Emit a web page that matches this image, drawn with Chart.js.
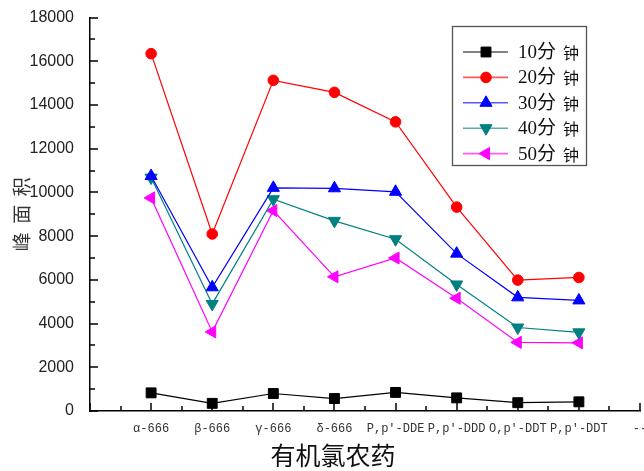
<!DOCTYPE html>
<html>
<head>
<meta charset="utf-8">
<script src="https://cdn.jsdelivr.net/npm/chart.js@4/dist/chart.umd.min.js"></script>
<style>
  html, body { margin: 0; padding: 0; background: #fff; overflow: hidden; }
  #wrap { width: 700px; height: 471px; }
</style>
</head>
<body>
<div id="wrap"><canvas id="c" width="700" height="471"></canvas></div>
<script>
// Organochlorine pesticides on the x axis
const categories = ["α-666", "β-666", "γ-666", "δ-666", "P,p'-DDE", "P,p'-DDD", "O,p'-DDT", "P,p'-DDT"];
// labels at the two ends of the x axis (positions -1 and 8)
const edgeLabels = ["", "--"];

// peak areas by extraction time
const min10 = [830, 350, 800, 570, 850, 600, 380, 420];
const min20 = [16350, 8100, 15130, 14580, 13230, 9330, 5990, 6110];
const min30 = [10750, 5660, 10210, 10190, 10030, 7200, 5200, 5060];
const min40 = [10680, 4900, 9690, 8700, 7860, 5790, 3820, 3600];
const min50 = [9750, 3620, 9170, 6140, 7000, 5160, 3140, 3120];

const seriesNames = ["10分 钟", "20分 钟", "30分 钟", "40分 钟", "50分 钟"];
const yMin = 0, yMax = 18000, yStep = 2000;

const toPoints = arr => arr.map((v, i) => ({ x: i, y: v }));

function series(label, values, color, style, rotation, radius) {
  return {
    label, data: toPoints(values),
    borderColor: color, backgroundColor: color,
    pointBackgroundColor: color, pointBorderColor: color,
    pointStyle: style, pointRotation: rotation,
    pointRadius: radius, pointHoverRadius: radius, pointBorderWidth: 1,
    borderWidth: 1.2, tension: 0, fill: false, clip: false
  };
}

// inward major/minor tick marks on both axes
const inwardTicks = {
  id: 'inwardTicks',
  beforeDatasetsDraw(chart) {
    const { ctx, chartArea: a, scales: { x, y } } = chart;
    ctx.save();
    ctx.strokeStyle = '#000';
    ctx.lineWidth = 1.5;
    ctx.beginPath();
    for (let v = yMin; v <= yMax; v += yStep / 2) {
      const py = Math.round(y.getPixelForValue(v));
      const len = v % yStep === 0 ? 8 : 5;
      ctx.moveTo(a.left, py);
      ctx.lineTo(a.left + len, py);
    }
    for (let v = x.min; v <= x.max + 1e-9; v += 0.5) {
      const px = Math.round(x.getPixelForValue(v));
      const len = Number.isInteger(v) ? 8 : 5;
      ctx.moveTo(px, a.bottom);
      ctx.lineTo(px, a.bottom - len);
    }
    ctx.stroke();
    ctx.restore();
  }
};

// boxed legend in the upper right plus the x axis caption
const boxLegend = {
  id: 'boxLegend',
  afterDraw(chart) {
    const { ctx } = chart;
    ctx.save();
    // x axis caption
    ctx.fillStyle = '#111';
    ctx.font = "25px 'Noto Sans CJK SC'";
    ctx.textAlign = 'center';
    ctx.textBaseline = 'middle';
    ctx.fillText('有机氯农药', 333, 455);

    // legend frame
    const bx = 452.5, by = 26.5, bw = 134, bh = 139;
    ctx.strokeStyle = '#555';
    ctx.lineWidth = 1.3;
    ctx.strokeRect(bx, by, bw, bh);

    const rowY0 = 52, rowStep = 25.4;
    chart.data.datasets.forEach((ds, i) => {
      const ry = rowY0 + i * rowStep;
      ctx.globalAlpha = 0.65;
      ctx.strokeStyle = ds.borderColor;
      ctx.lineWidth = 1.6;
      ctx.beginPath();
      ctx.moveTo(463, ry);
      ctx.lineTo(508, ry);
      ctx.stroke();
      ctx.globalAlpha = 1;
      ctx.fillStyle = ds.pointBackgroundColor;
      ctx.strokeStyle = ds.pointBorderColor;
      ctx.lineWidth = 1;
      Chart.helpers.drawPoint(ctx, {
        pointStyle: ds.pointStyle, rotation: ds.pointRotation,
        radius: ds.pointRadius, borderWidth: 1
      }, 486, ry);
      // "NN分" in the larger face, "钟" a little smaller after a gap
      const [head, tail] = ds.label.split(' ');
      ctx.fillStyle = '#111';
      ctx.textAlign = 'left';
      ctx.textBaseline = 'middle';
      ctx.font = "19px 'Liberation Serif', 'Noto Sans CJK SC'";
      ctx.fillText(head, 518, ry + 1);
      ctx.font = "16px 'Noto Sans CJK SC'";
      ctx.fillText(tail, 563, ry + 1);
    });
    ctx.restore();
  }
};

new Chart(document.getElementById('c'), {
  type: 'line',
  data: {
    datasets: [
      series(seriesNames[0], min10, '#000000', 'rect', 0, 7),
      series(seriesNames[1], min20, '#ff0000', 'circle', 0, 5.3),
      series(seriesNames[2], min30, '#0000ff', 'triangle', 0, 7),
      series(seriesNames[3], min40, '#008080', 'triangle', 180, 7),
      series(seriesNames[4], min50, '#ff00ff', 'triangle', 270, 7)
    ]
  },
  options: {
    responsive: false,
    animation: false,
    devicePixelRatio: 1,
    layout: { padding: { left: 0, top: 14, right: 60, bottom: 0 } },
    plugins: { legend: { display: false }, tooltip: { enabled: false } },
    scales: {
      x: {
        type: 'linear', min: -1, max: 8,
        grid: { display: false },
        border: { display: true, color: '#000', width: 1.5 },
        ticks: {
          stepSize: 1, autoSkip: false, maxRotation: 0, minRotation: 0, padding: 3,
          color: '#333', font: { family: "'Liberation Mono', monospace", size: 12 },
          callback: v => {
            if (v === -1) return edgeLabels[0];
            if (v === 8) return edgeLabels[1];
            return categories[v] !== undefined ? categories[v] : '';
          }
        },
        afterFit: s => { s.height = 60; }
      },
      y: {
        min: yMin, max: yMax,
        grid: { display: false },
        border: { display: true, color: '#000', width: 1.5 },
        ticks: {
          stepSize: yStep, padding: 8, color: '#222',
          font: { family: "'Liberation Sans', Arial, sans-serif", size: 16 },
          callback: v => String(v)
        },
        title: {
          display: true, text: '峰  面  积', color: '#333',
          font: { family: "'Noto Sans CJK SC'", size: 19 },
          padding: { top: 10, bottom: 0 }
        },
        afterFit: s => { s.width = 90; }
      }
    }
  },
  plugins: [inwardTicks, boxLegend]
});
</script>
</body>
</html>
